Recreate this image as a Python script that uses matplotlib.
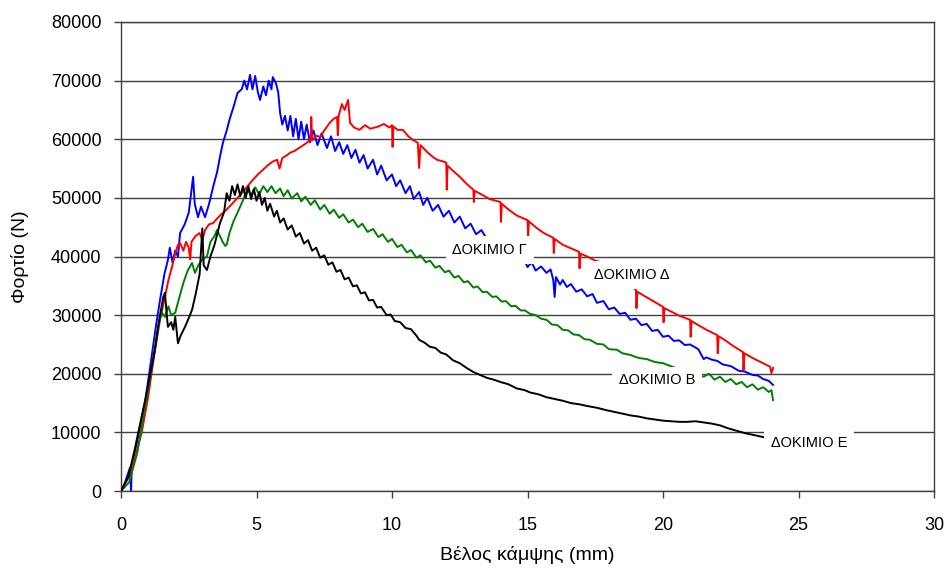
import matplotlib
matplotlib.use("Agg")
import matplotlib.pyplot as plt

plt.rcParams['font.family'] = ['Liberation Sans', 'DejaVu Sans']

# ΔΟΚΙΜΙΟ Γ (blue)
blue_x = [0.0, 0.15, 0.33, 0.37, 0.40, 0.6, 0.9, 1.13, 1.3, 1.44, 1.6, 1.73, 1.8, 1.9, 2.0, 2.1,
          2.18, 2.35, 2.5, 2.66, 2.72, 2.84, 2.95, 3.1, 3.25, 3.4, 3.55, 3.65, 3.76, 3.9, 4.0,
          4.15, 4.3, 4.45, 4.55, 4.65, 4.76, 4.85, 4.95, 5.05, 5.13, 5.25, 5.35, 5.45, 5.55,
          5.6, 5.72, 5.8, 5.87, 5.95, 6.05, 6.15, 6.25, 6.35, 6.45, 6.55, 6.65, 6.75, 6.85,
          6.97, 7.1, 7.25, 7.4, 7.6, 7.75, 7.9, 8.05, 8.2, 8.35, 8.5, 8.65, 8.8, 8.95, 9.1,
          9.3, 9.45, 9.6, 9.8, 10.0, 10.15, 10.3, 10.5, 10.66, 10.8, 11.0, 11.15, 11.3, 11.5,
          11.7, 11.9, 12.1, 12.3, 12.5, 12.7, 12.9, 13.1, 13.3, 13.5, 13.65, 14.0, 14.4, 14.7,
          14.85, 15.0, 15.15, 15.3, 15.5, 15.7, 15.85, 15.95, 16.0, 16.05, 16.2, 16.3, 16.45,
          16.6, 16.8, 17.0, 17.2, 17.4, 17.56, 17.8, 18.0, 18.2, 18.4, 18.6, 18.8, 19.0, 19.2,
          19.4, 19.6, 19.8, 20.0, 20.2, 20.4, 20.6, 20.8, 21.0, 21.3, 21.5, 21.6, 21.8, 22.0,
          22.2, 22.5, 22.8, 23.0, 23.3, 23.5, 23.7, 23.9, 24.06]
blue_y = [0, 1500, 4000, 0, 4500, 8500, 15500, 22900, 28500, 32600, 37000, 39400, 41500, 39000,
          41000, 40000, 44000, 45500, 47500, 53600, 49000, 46700, 48500, 46700, 49000, 51900,
          54500, 57000, 59400, 61500, 63300, 65500, 67900, 68500, 70000, 68500, 71000, 68500,
          70800, 68000, 66700, 69000, 67500, 70000, 68500, 70600, 69500, 68000, 64500, 62500,
          64000, 61500, 64000, 60500, 63500, 60000, 63000, 60000, 62500, 59500, 61500, 59000,
          61000, 58500, 60500, 58000, 59500, 57500, 59000, 56800, 58200, 56000, 57300, 55000,
          56500, 54000, 55500, 53000, 54000, 52000, 53000, 50800, 52000, 49800, 51000, 48800,
          50000, 47800, 48800, 46800, 47800, 45800, 46800, 44800, 45600, 43800, 44500, 43000,
          43300, 42000, 40000, 39000, 39800, 38200, 39000, 37600, 38300, 37200, 37800, 36000,
          33100, 36500, 35200, 36000, 34800, 35300, 34000, 34400, 33200, 33600, 32100, 32400,
          31000, 31300, 30200, 30400, 29200, 29400, 28300, 28500, 27300, 27500, 26300, 26500,
          25600, 25700, 24900, 25000, 24200, 22500, 22800, 22400, 22200, 21600, 21300, 20500,
          20400, 19800, 19700, 19100, 18800, 18100]

# ΔΟΚΙΜΙΟ Δ (red)
red_x = [0.0, 0.3, 0.5, 0.76, 1.0, 1.25, 1.45, 1.62, 1.75, 1.88, 2.0, 2.1, 2.18, 2.3, 2.4, 2.5,
         2.55, 2.6, 2.75, 2.9, 3.0, 3.1, 3.25, 3.4, 3.55, 3.7, 3.85, 4.0, 4.2, 4.4, 4.65, 4.85,
         5.05, 5.24, 5.4, 5.6, 5.76, 5.85, 5.95, 6.1, 6.24, 6.4, 6.6, 6.86, 7.0, 7.02, 7.05,
         7.2, 7.35, 7.5, 7.7, 7.85, 7.97, 8.0, 8.03, 8.15, 8.25, 8.38, 8.45, 8.6, 8.8, 9.0,
         9.2, 9.45, 9.7, 9.9, 10.0, 10.02, 10.05, 10.2, 10.4, 10.6, 10.8, 10.95, 11.0, 11.05,
         11.3, 11.5, 11.66, 11.9, 12.0, 12.02, 12.05, 12.3, 12.5, 12.75, 13.0, 13.02, 13.05,
         13.3, 13.6, 14.0, 14.02, 14.05, 14.3, 14.6, 15.0, 15.02, 15.05, 15.3, 15.6, 15.95,
         15.97, 16.0, 16.3, 16.6, 16.9, 16.92, 16.95, 17.2, 17.5, 17.8, 18.3, 18.7, 19.0,
         19.02, 19.05, 19.3, 19.6, 20.0, 20.02, 20.05, 20.3, 20.6, 21.0, 21.02, 21.05, 21.3,
         21.6, 22.0, 22.02, 22.05, 22.3, 22.6, 22.95, 22.97, 23.0, 23.3, 23.6, 23.95, 24.0,
         24.06]
red_y = [0, 2500, 5500, 9900, 16000, 24000, 29500, 33100, 36000, 38200, 40500, 42000, 42300,
         41000, 42500, 41500, 39500, 42500, 43500, 44000, 42800, 44500, 45500, 45700, 46500,
         47200, 47800, 48500, 49500, 50500, 51900, 53000, 54000, 54800, 55500, 56200, 56500,
         55000, 56800, 57200, 57700, 58000, 58600, 59400, 60000, 63800, 59800, 60600, 60400,
         61500, 62800, 63500, 63800, 60700, 64000, 66000, 65000, 66700, 62800, 62000, 61600,
         62400, 61800, 62100, 62600, 62000, 62400, 58700, 62200, 61600, 61600, 60500, 59800,
         59400, 55100, 59000, 57800, 57000, 56500, 56200, 56000, 51400, 55500, 54400, 53600,
         52400, 51400, 49300, 51200, 50600, 49800, 49300, 45900, 49000, 48000, 47000, 46200,
         43300, 46000, 45000, 44000, 43200, 40600, 43000, 42000, 41400, 40800, 38000, 40500,
         40000, 39300, 38900, 37000, 35500, 34300, 31200, 34000, 33300, 32500, 31400, 28800,
         31200, 30600, 29900, 29200, 26300, 29000, 28300, 27500, 26600, 23500, 26400, 25700,
         24700, 23700, 20600, 23500, 22700, 22000, 21200, 20100, 21000]

# ΔΟΚΙΜΙΟ Β (green)
green_x = [0.0, 0.3, 0.6, 0.8, 1.0, 1.2, 1.37, 1.5, 1.62, 1.75, 1.85, 2.0, 2.15, 2.3, 2.45,
           2.62, 2.73, 2.85, 3.0, 3.17, 3.3, 3.45, 3.54, 3.65, 3.75, 3.85, 3.9, 4.0, 4.15, 4.3,
           4.5, 4.65, 4.8, 4.95, 5.1, 5.25, 5.4, 5.55, 5.7, 5.87, 6.0, 6.15, 6.3, 6.5, 6.65,
           6.8, 7.0, 7.15, 7.35, 7.5, 7.7, 7.85, 8.05, 8.2, 8.4, 8.56, 8.75, 8.9, 9.1, 9.3,
           9.5, 9.65, 9.85, 10.0, 10.2, 10.35, 10.55, 10.7, 10.9, 11.05, 11.25, 11.4, 11.6,
           11.75, 11.95, 12.1, 12.3, 12.45, 12.65, 12.8, 13.0, 13.15, 13.35, 13.5, 13.7, 13.85,
           14.05, 14.2, 14.4, 14.55, 14.75, 14.9, 15.1, 15.3, 15.5, 15.7, 15.9, 16.1, 16.3,
           16.5, 16.7, 16.9, 17.1, 17.3, 17.56, 17.8, 18.0, 18.3, 18.5, 18.8, 19.1, 19.4, 19.7,
           20.0, 20.4, 20.8, 21.2, 21.5, 21.7, 21.9, 22.1, 22.3, 22.5, 22.7, 22.9, 23.1, 23.3,
           23.5, 23.7, 23.9, 24.0, 24.06]
green_y = [0, 1500, 6500, 12000, 17200, 23000, 28000, 30500, 29700, 31500, 30000, 30400, 33000,
           35500, 37500, 38900, 37200, 38500, 39500, 40000, 42500, 43500, 44500, 43500, 42500,
           41800, 42000, 44000, 46000, 47500, 49600, 51400, 50500, 51800, 50600, 52000, 51000,
           52000, 50800, 51600, 50300, 51300, 49900, 50800, 49400, 50200, 48800, 49600, 48000,
           48800, 47300, 48000, 46600, 47200, 45800, 46300, 45000, 45600, 44200, 44700, 43300,
           43800, 42500, 43000, 41600, 42000, 40700, 41100, 39800, 40200, 39000, 39300, 38100,
           38400, 37300, 37600, 36400, 36700, 35600, 35800, 34700, 34900, 33900, 34000, 33100,
           33200, 32300, 32400, 31500, 31600, 30800, 30800, 30200, 30000, 29400, 29200, 28400,
           28300, 27500, 27400, 26700, 26600, 25900, 25800, 25100, 25000, 24200, 24100, 23500,
           23200, 22700, 22500, 22000, 21800, 21100, 20600, 20000, 19500, 20000, 19000, 19500,
           18600, 19100, 18200, 18600, 17700, 18200, 17300, 17700, 16900, 17200, 15500]

# ΔΟΚΙΜΙΟ Ε (black)
black_x = [0.0, 0.27, 0.5, 0.89, 1.1, 1.25, 1.4, 1.56, 1.62, 1.68, 1.73, 1.85, 1.93, 2.0, 2.1,
           2.2, 2.36, 2.5, 2.62, 2.75, 2.9, 3.0, 3.05, 3.17, 3.3, 3.45, 3.65, 3.8, 3.9, 4.0,
           4.1, 4.2, 4.3, 4.4, 4.5, 4.6, 4.7, 4.8, 4.9, 5.0, 5.1, 5.2, 5.3, 5.4, 5.5, 5.65,
           5.75, 5.87, 6.0, 6.15, 6.3, 6.45, 6.6, 6.75, 6.9, 7.05, 7.2, 7.35, 7.5, 7.65, 7.8,
           7.95, 8.1, 8.25, 8.4, 8.56, 8.7, 8.85, 9.0, 9.15, 9.3, 9.45, 9.6, 9.8, 9.95, 10.1,
           10.3, 10.5, 10.7, 10.9, 11.0, 11.2, 11.4, 11.6, 11.8, 12.0, 12.25, 12.5, 12.75,
           13.0, 13.25, 13.5, 13.75, 14.0, 14.3, 14.6, 14.9, 15.1, 15.4, 15.7, 16.0, 16.3,
           16.6, 16.9, 17.2, 17.56, 17.9, 18.2, 18.5, 18.8, 19.1, 19.4, 19.7, 20.0, 20.3, 20.6,
           20.9, 21.2, 21.5, 21.8, 22.1, 22.4, 22.7, 23.0, 23.3, 23.5, 23.7]
black_y = [0, 2400, 7000, 15500, 20500, 24000, 29000, 33100, 33800, 30500, 28000, 28800, 27500,
           29700, 25200, 26500, 28000, 29500, 30900, 33500, 37000, 44800, 38500, 37700, 40000,
           42000, 45700, 47500, 50800, 49500, 52000, 50500, 52300, 50300, 52000, 50000, 52000,
           49800, 51500, 49500, 51000, 48800, 50000, 47800, 49000, 46800, 47800, 45800, 46500,
           44600, 45300, 43400, 44000, 42200, 42800, 41000, 41500, 39800, 40200, 38600, 39000,
           37400, 37700, 36100, 36400, 34900, 35100, 33700, 33900, 32500, 32600, 31300, 31400,
           30000, 30100, 29000, 28800, 27800, 27600, 26500, 25800, 25300, 24600, 24400, 23600,
           23300, 22300, 21800, 21000, 20300, 19800, 19300, 19000, 18600, 18200, 17500, 17200,
           16800, 16500, 16000, 15700, 15400, 15000, 14800, 14500, 14200, 13800, 13500, 13200,
           12900, 12700, 12400, 12200, 12000, 11900, 11800, 11800, 11900, 11700, 11500, 11200,
           10700, 10300, 9900, 9600, 9400, 9200]

# curve labels: text, x, y
label_text = ['ΔΟΚΙΜΙΟ Γ', 'ΔΟΚΙΜΙΟ Δ', 'ΔΟΚΙΜΙΟ Β', 'ΔΟΚΙΜΙΟ Ε']
label_x = [13.6, 18.86, 19.78, 25.39]
label_y = [41100, 36850, 18900, 8200]

x_ticks = [0, 5, 10, 15, 20, 25, 30]
y_ticks = [0, 10000, 20000, 30000, 40000, 50000, 60000, 70000, 80000]

fig = plt.figure(figsize=(9.47, 5.77), dpi=100)
ax = fig.add_axes([0.1278, 0.149, 0.8585, 0.8129])

ax.plot(blue_x, blue_y, color='#0000ff', lw=1.4, zorder=3)
ax.plot(red_x, red_y, color='#ff0000', lw=1.4, zorder=3)
ax.plot(green_x, green_y, color='#008000', lw=1.4, zorder=3)
ax.plot(black_x, black_y, color='black', lw=1.4, zorder=3)

for txt, lx, ly in zip(label_text, label_x, label_y):
    ax.text(lx, ly, txt, fontsize=10.5, ha='center', va='center', zorder=5,
            bbox=dict(boxstyle='square,pad=0.45', facecolor='white', edgecolor='none'))

ax.set_xlim(0, 30)
ax.set_ylim(0, 80000)
ax.set_xticks(x_ticks)
ax.set_yticks(y_ticks)
ax.yaxis.grid(True, color='#404040', lw=1.0, zorder=1)
ax.set_axisbelow(True)
ax.tick_params(direction='out', length=5, width=1, colors='#404040', labelcolor='black')
ax.tick_params(axis='x', labelsize=13, pad=14)
ax.tick_params(axis='y', labelsize=13, pad=9)
for sp in ax.spines.values():
    sp.set_color('#404040')
    sp.set_linewidth(1.0)

ax.set_xlabel('Βέλος κάμψης (mm)', fontsize=14, labelpad=8)
ax.set_ylabel('Φορτίο (N)', fontsize=14, labelpad=16)

fig.savefig('out.png', dpi=100)
